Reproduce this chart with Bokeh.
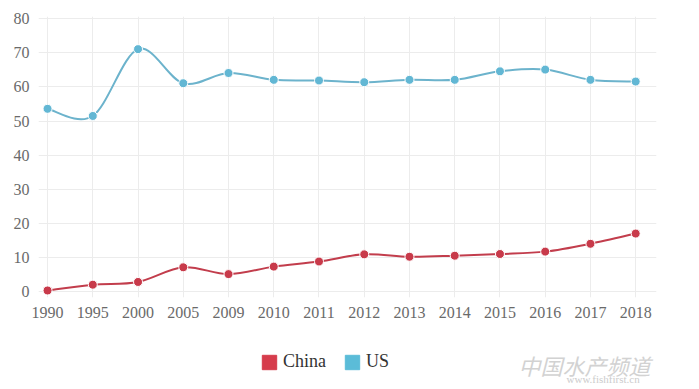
from bokeh.plotting import figure
from bokeh.layouts import column
from bokeh.models import FixedTicker, Legend, LegendItem, Range1d, Label, ColumnDataSource
from bokeh.embed import file_html
from bokeh.resources import INLINE

years = ["1990", "1995", "2000", "2005", "2009", "2010", "2011", "2012",
         "2013", "2014", "2015", "2016", "2017", "2018"]
china = [0.3, 2.0, 2.8, 7.1, 5.1, 7.3, 8.8, 10.9, 10.2, 10.5, 11.0, 11.7, 14.0, 17.0]
us = [53.6, 51.5, 71.1, 61.1, 64.1, 62.1, 61.9, 61.4, 62.1, 62.1, 64.6, 65.1, 62.1, 61.6]
y_ticks = [0, 10, 20, 30, 40, 50, 60, 70, 80]

CHINA_LINE = "#c23d4c"
CHINA_MARK = "#c83a4a"
CHINA_LEG = "#d63c4c"
US_LINE = "#6cb3cc"
US_MARK = "#62b7d4"
US_LEG = "#5bbcd8"

xs = list(range(len(years)))

p = figure(width=699, height=335, output_backend="svg", toolbar_location=None,
           x_range=Range1d(-0.2, 13.46), y_range=Range1d(-1.76, 80.68),
           min_border_left=38, min_border_right=43, min_border_top=16, min_border_bottom=38)
p.outline_line_color = None
p.background_fill_color = "white"
p.border_fill_color = "white"


def spline_segments(x, y):
    n = len(x)
    seg = dict(x0=[], y0=[], x1=[], y1=[], cx0=[], cy0=[], cx1=[], cy1=[])
    for i in range(n - 1):
        i0 = max(i - 1, 0)
        i3 = min(i + 2, n - 1)
        seg["x0"].append(x[i]); seg["y0"].append(y[i])
        seg["x1"].append(x[i + 1]); seg["y1"].append(y[i + 1])
        seg["cx0"].append(x[i] + (x[i + 1] - x[i0]) / 6.0)
        seg["cy0"].append(y[i] + (y[i + 1] - y[i0]) / 6.0)
        seg["cx1"].append(x[i + 1] - (x[i3] - x[i]) / 6.0)
        seg["cy1"].append(y[i + 1] - (y[i3] - y[i]) / 6.0)
    return ColumnDataSource(seg)


for vals, lc, mc in [(us, US_LINE, US_MARK), (china, CHINA_LINE, CHINA_MARK)]:
    p.bezier(x0="x0", y0="y0", x1="x1", y1="y1", cx0="cx0", cy0="cy0",
             cx1="cx1", cy1="cy1", source=spline_segments(xs, vals),
             line_color=lc, line_width=2)
    p.scatter(xs, vals, size=9, fill_color=mc, line_color="white", line_width=1)

# axes
p.xaxis.ticker = FixedTicker(ticks=xs)
p.xaxis.major_label_overrides = {i: y for i, y in enumerate(years)}
p.yaxis.ticker = FixedTicker(ticks=y_ticks)
for ax in (p.xaxis[0], p.yaxis[0]):
    ax.axis_line_color = None
    ax.major_tick_line_color = None
    ax.minor_tick_line_color = None
    ax.major_label_text_font = "Liberation Serif"
    ax.major_label_text_font_size = "16px"
    ax.major_label_text_color = "#6a6a6a"
p.xaxis.major_label_standoff = 3
p.yaxis.major_label_standoff = 3

p.xgrid.ticker = FixedTicker(ticks=xs)
p.ygrid.ticker = FixedTicker(ticks=y_ticks)
p.xgrid.grid_line_color = "#ececec"
p.ygrid.grid_line_color = "#ececec"

# legend strip below the chart (x units = page pixels)
q = figure(width=699, height=54, output_backend="svg", toolbar_location=None,
           x_range=Range1d(38, 656), y_range=Range1d(0, 54),
           min_border_left=38, min_border_right=43, min_border_top=0, min_border_bottom=0,
           x_axis_location=None, y_axis_location=None)
q.outline_line_color = None
q.grid.visible = False
q.border_fill_color = "white"

nan = float("nan")
r_cn = q.quad(left=[nan], right=[nan], top=[nan], bottom=[nan],
              fill_color=CHINA_LEG, line_color=CHINA_LEG)
r_us = q.quad(left=[nan], right=[nan], top=[nan], bottom=[nan],
              fill_color=US_LEG, line_color=US_LEG)
legend = Legend(items=[LegendItem(label="China", renderers=[r_cn]),
                       LegendItem(label="US", renderers=[r_us])],
                orientation="horizontal", location=(222, 17),
                glyph_width=18, glyph_height=18, spacing=17, label_standoff=5,
                label_text_font="Liberation Serif", label_text_font_size="18px",
                label_text_color="#333333", border_line_color=None,
                background_fill_alpha=0, padding=0, margin=0)
q.add_layout(legend, "center")

# watermark
wm = Label(x=518, y=9, text="中国水产频道", text_font="Noto Sans CJK SC",
           text_font_size="22px", text_color="#d2d2d2", text_font_style="italic")
q.add_layout(wm)
wm2 = Label(x=566, y=5, text="www.fishfirst.cn", text_font="Liberation Serif",
            text_font_size="11px", text_color="#cccccc")
q.add_layout(wm2)

open("out.html", "w").write(file_html(column(p, q, spacing=0), INLINE))
